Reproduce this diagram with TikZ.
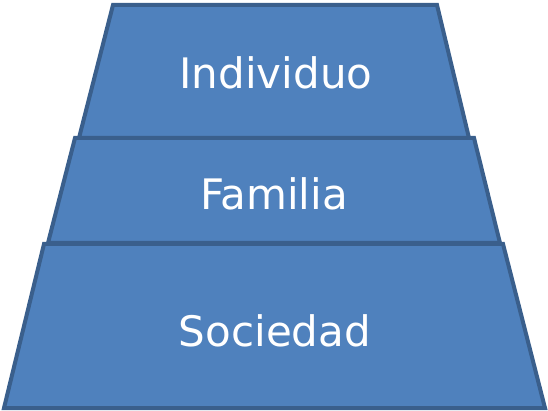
\documentclass[tikz,border=0pt]{standalone}
\usepackage{fontspec}
\setmainfont{DejaVu Sans}
\definecolor{layerblue}{HTML}{4F81BD}
\definecolor{layeredge}{HTML}{3A5F8C}
\begin{document}
\begin{tikzpicture}[x=1pt,y=-1pt,
    layer/.style={fill=layerblue,draw=layeredge,line width=4pt,line join=miter},
    word/.style={text=white,font=\fontsize{42}{46}\selectfont,inner sep=0pt,anchor=base}]
    \useasboundingbox (0,0) rectangle (548,411);
    % bottom level
    \draw[layer] (44,244) -- (503,244) -- (545,408) -- (4,408) -- cycle;
    % middle level
    \draw[layer] (75,138) -- (474,138) -- (500,243) -- (48,243) -- cycle;
    % top level
    \draw[layer] (113,5) -- (437,5) -- (469,138) -- (79,138) -- cycle;
    \node[word] (individuo) at (276,89) {Individuo};
    \node[word] (familia) at (274,210) {Familia};
    \node[word] (sociedad) at (275,346) {Sociedad};
\end{tikzpicture}
\end{document}
